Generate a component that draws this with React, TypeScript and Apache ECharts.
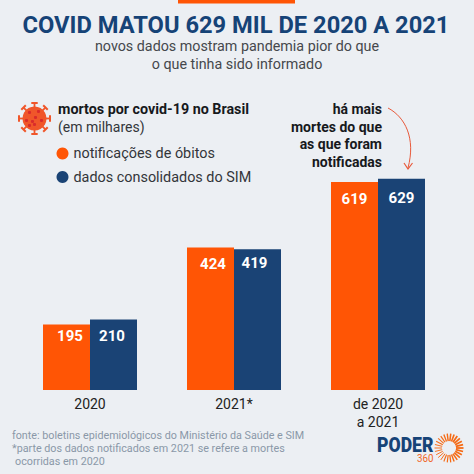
import React, { useEffect, useRef } from "react";
import * as echarts from "echarts";

const categories = ["2020", "2021*", "de 2020\na 2021"];
const notificacoes = [195, 424, 619];
const consolidados = [210, 419, 629];
const seriesNames = ["notificações de óbitos", "dados consolidados do SIM"];
const titleText = "COVID MATOU 629 MIL DE 2020 A 2021";
const subtitleLines = ["novos dados mostram pandemia pior do que", "o que tinha sido informado"];
const noteLines = ["há mais", "mortes do que", "as que foram", "notificadas"];
const footLines = [
  "fonte: boletins epidemiológicos do Ministério da Saúde e SIM",
  "*parte dos dados notificados em 2021 se refere a mortes",
  "ocorridas em 2020",
];

const ORANGE = "#FF5505";
const NAVY = "#1A4375";
const FONT = "Roboto";

function txt(x: number, y: number, text: string, size: number, fill: string, weight: any = 400, align: any = "left", node: any = {}) {
  return {
    type: "text", x, y, silent: true, ...node,
    style: { text, font: `${weight} ${size}px ${FONT}`, fill, textAlign: align, textVerticalAlign: "middle" },
  };
}

function rays(cx: number, cy: number, r0: number, r1: number, count: number, color: string, width: number | ((a: number) => number)) {
  const out: any[] = [];
  for (let i = 0; i < count; i++) {
    const a = (i / count) * Math.PI * 2;
    out.push({
      type: "line", silent: true,
      shape: { x1: cx + r0 * Math.cos(a), y1: cy + r0 * Math.sin(a), x2: cx + r1 * Math.cos(a), y2: cy + r1 * Math.sin(a) },
      style: { stroke: color, lineWidth: typeof width === "function" ? width(a) : width },
    });
  }
  return out;
}

function virus(cx: number, cy: number) {
  const col = "#F0562A";
  const out: any[] = [...rays(cx, cy, 10, 15.5, 8, col, 1.8)];
  for (let i = 0; i < 8; i++) {
    const a = (i / 8) * Math.PI * 2;
    const px = cx + 15.5 * Math.cos(a), py = cy + 15.5 * Math.sin(a);
    const tx = -Math.sin(a) * 3.2, ty = Math.cos(a) * 3.2;
    out.push({ type: "line", silent: true, shape: { x1: px - tx, y1: py - ty, x2: px + tx, y2: py + ty }, style: { stroke: col, lineWidth: 2 } });
  }
  out.push({ type: "circle", silent: true, shape: { cx, cy, r: 12 }, style: { fill: col } });
  const spots = [[-5, -6], [4, -7], [-8, 2], [1, -1], [7, 2], [-2, 3], [0, 6], [-5, 7]];
  for (const [dx, dy] of spots) {
    out.push({ type: "circle", silent: true, shape: { cx: cx + dx, cy: cy + dy, r: 1.6 }, style: { fill: "#D92B2B" } });
  }
  return out;
}

export default function App() {
  const ref = useRef<HTMLDivElement>(null);
  useEffect(() => {
    document.body.style.margin = "0";
    const chart = echarts.init(ref.current!, undefined, { renderer: "svg" });
    const styled = (vals: number[], dist: number[], dx: number[]) =>
      vals.map((v, i) => ({
        value: v,
        label: {
          show: true, position: "insideTop" as const, distance: dist[i], offset: [dx[i], 0], color: "#fff",
          fontFamily: FONT, fontWeight: 700 as const, fontSize: 15,
        },
      }));
    chart.setOption({
      animation: false,
      backgroundColor: "#ECEFF3",
      grid: { left: 18, right: 24, top: 154.8, height: 235.2, containLabel: false },
      legend: {
        left: 51.5, top: 141.5, orient: "vertical", icon: "circle", itemWidth: 12, itemHeight: 12, itemGap: 9.5,
        selectedMode: false,
        textStyle: { fontFamily: FONT, fontSize: 14.4, color: "#33363A" },
        data: seriesNames,
      },
      xAxis: {
        type: "category", data: categories,
        axisLine: { show: false }, axisTick: { show: false },
        axisLabel: { margin: 5, fontFamily: FONT, fontSize: 14, color: "#222", lineHeight: 18, interval: 0 },
      },
      yAxis: { type: "value", min: 0, max: 700, show: false, splitLine: { show: false } },
      series: [
        { name: seriesNames[0], type: "bar", data: styled(notificacoes, [4, 8.5, 9], [3.5, 2.5, 0]), barWidth: 47, barGap: "0%", itemStyle: { color: ORANGE } },
        { name: seriesNames[1], type: "bar", data: styled(consolidados, [9, 6.5, 12], [-1.5, -3, 0]), barWidth: 47, barGap: "0%", itemStyle: { color: NAVY } },
      ],
      graphic: [
        { type: "rect", silent: true, shape: { x: 178, y: 0, width: 117, height: 3.5 }, style: { fill: ORANGE } },
        txt(236, 24.5, titleText, 23.7, "#164377", 700, "center"),
        txt(237, 46, subtitleLines[0], 14.3, "#45484C", 400, "center"),
        txt(237, 63.5, subtitleLines[1], 14.3, "#45484C", 400, "center"),
        ...virus(34.5, 118.5),
        txt(58, 109, "mortos por covid-19 no Brasil", 14.3, "#17191C", 700),
        txt(58, 127, "(em milhares)", 14, "#33363A"),
        ...noteLines.map((l, i) => txt(382, 109 + i * 17.7, l, 14, "#17191C", 700, "right")),
        { type: "bezierCurve", silent: true, shape: { x1: 388, y1: 108, cpx1: 405, cpy1: 117, cpx2: 416, cpy2: 138, x2: 408, y2: 168 }, style: { stroke: "#E8593A", lineWidth: 1, fill: "none" } },
        { type: "polyline", silent: true, shape: { points: [[404, 163], [408, 169], [412.5, 163]] }, style: { stroke: "#E8593A", lineWidth: 1.2, fill: "none" } },
        ...footLines.map((l, i) => txt(i === 2 ? 15 : 12, 435 + i * 13, l, 10.75, "#8A98A8")),
        txt(377, 444.5, "PODER", 21, "#164377", 900, "left", { scaleX: 0.84 }),
        txt(433.5, 458.5, "360", 11.5, "#F0641E", 400, "right", { scaleX: 0.85 }),
        ...rays(449, 448, 7, 14.5, 26, "#F56A14", (a) => 0.9 + 0.9 * (1 + Math.cos(a + 0.3)) / 2),
      ],
    });
    return () => chart.dispose();
  }, []);
  return <div ref={ref} style={{ width: 474, height: 474 }} />;
}
